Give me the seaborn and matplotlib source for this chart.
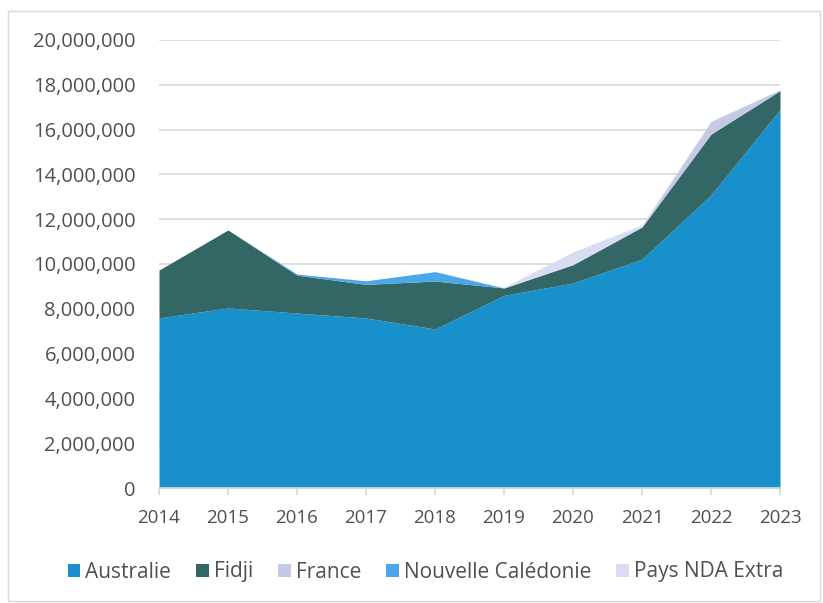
import matplotlib
matplotlib.use("Agg")
import matplotlib.pyplot as plt
import matplotlib.ticker as mtick
import seaborn as sns
import pandas as pd

years = [2014, 2015, 2016, 2017, 2018, 2019, 2020, 2021, 2022, 2023]
australie = [7590000, 8040000, 7810000, 7590000, 7100000, 8600000, 9150000, 10220000, 13080000, 16900000]
fidji = [2140000, 3480000, 1690000, 1500000, 2140000, 330000, 820000, 1430000, 2720000, 840000]
france = [0, 0, 0, 0, 0, 0, 20000, 30000, 550000, 40000]
nouvelle_caledonie = [0, 0, 50000, 160000, 420000, 0, 0, 0, 0, 0]
pays_nda_extra = [0, 0, 0, 0, 0, 30000, 550000, 70000, 40000, 0]

labels = ["Australie", "Fidji", "France", "Nouvelle Calédonie", "Pays NDA Extra"]
colors = ["#1790cb", "#326766", "#c5c9e3", "#4aa8ea", "#d9dcf2"]

df = pd.DataFrame({"year": years, "Australie": australie, "Fidji": fidji,
                   "France": france, "Nouvelle Calédonie": nouvelle_caledonie,
                   "Pays NDA Extra": pays_nda_extra})

sns.set_theme(style="white")
plt.rcParams["font.family"] = ["Open Sans", "DejaVu Sans"]
text_col = "#505050"

fig = plt.figure(figsize=(8.23, 6.03), dpi=100)
ax = fig.add_axes([159 / 823, 1 - 488 / 603, (780 - 159) / 823, (488 - 40) / 603])

ax.stackplot(df["year"], [df[l] for l in labels], labels=labels, colors=colors, linewidth=0)

ax.set_xlim(2014, 2023)
ax.set_ylim(0, 20000000)
ax.set_yticks(range(0, 20000001, 2000000))
ax.set_xticks(years)
ax.yaxis.set_major_formatter(mtick.FuncFormatter(lambda y, _: "{:,.0f}".format(y)))
ax.grid(axis="y", color="#d9d9d9", linewidth=1.2)
ax.set_axisbelow(True)
for s in ["top", "right", "left"]:
    ax.spines[s].set_visible(False)
ax.spines["bottom"].set_color("#d9d9d9")
ax.tick_params(axis="y", colors=text_col, labelsize=14.5, length=0, pad=17)
ax.tick_params(axis="x", colors=text_col, labelsize=13.5, length=5, color="#d9d9d9",
               direction="out", bottom=True, pad=10)

leg = fig.legend(*ax.get_legend_handles_labels(), loc="center", bbox_to_anchor=(0.517, 1 - 572 / 603),
                 ncol=5, frameon=False, fontsize=15, handlelength=0.6, handleheight=0.6,
                 handletextpad=0.25, columnspacing=1.2)
for t in leg.get_texts():
    t.set_color(text_col)

fig.patches.append(plt.Rectangle((8 / 823, 2 / 603), 812 / 823, 590 / 603, transform=fig.transFigure,
                                 fill=False, edgecolor="#d9d9d9", linewidth=1))

fig.savefig("out.png", dpi=100)
